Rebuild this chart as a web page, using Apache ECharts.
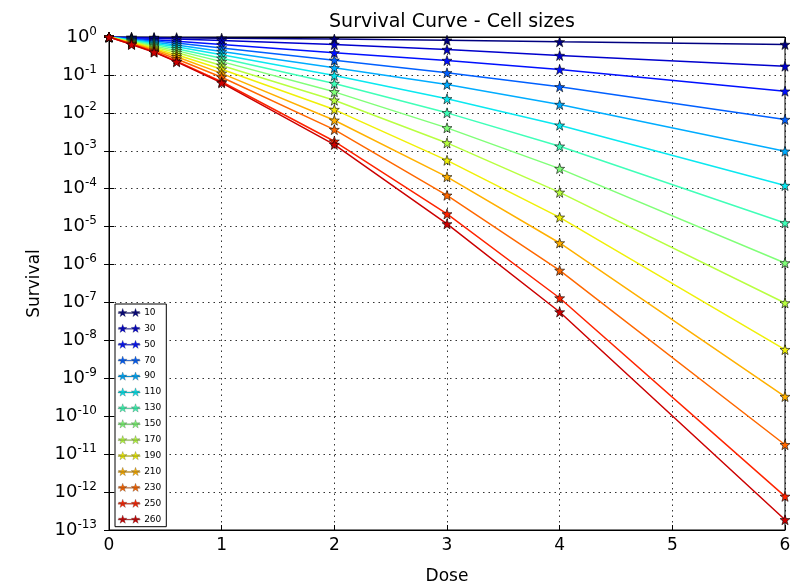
<!DOCTYPE html>
<html>
<head>
<meta charset="utf-8">
<script src="https://cdn.jsdelivr.net/npm/echarts@6/dist/echarts.min.js"></script>
<style>
  html, body { margin: 0; padding: 0; background: #fff; }
  #main { width: 801px; height: 588px; }
</style>
</head>
<body>
<div id="main"></div>
<script>
// doses where survival was measured
const doses = [0, 0.2, 0.4, 0.6, 1, 2, 3, 4, 6];

// cell sizes (legend names)
const sizes = ['10', '30', '50', '70', '90', '110', '130', '150', '170', '190', '210', '230', '250', '260'];

// survival fraction per size
const s10  = [1, 0.986, 0.975, 0.962, 0.933, 0.881, 0.822, 0.746, 0.634];
const s30  = [1, 0.962, 0.927, 0.891, 0.813, 0.634, 0.468, 0.325, 0.170];
const s50  = [1, 0.918, 0.845, 0.776, 0.631, 0.383, 0.240, 0.139, 0.0372];
const s70  = [1, 0.885, 0.785, 0.692, 0.513, 0.244, 0.1135, 0.0485, 0.00665];
const s90  = [1, 0.851, 0.729, 0.617, 0.417, 0.154, 0.0558, 0.0166, 9.7e-4];
const s110 = [1, 0.822, 0.676, 0.550, 0.339, 0.0964, 0.0234, 0.00471, 1.21e-4];
const s130 = [1, 0.794, 0.631, 0.490, 0.275, 0.0593, 0.0100, 0.001315, 1.25e-5];
const s150 = [1, 0.767, 0.582, 0.437, 0.224, 0.0358, 0.00402, 3.39e-4, 1.10e-6];
const s170 = [1, 0.741, 0.537, 0.389, 0.178, 0.0215, 0.00161, 8.0e-5, 9.7e-8];
const s190 = [1, 0.716, 0.501, 0.339, 0.141, 0.0122, 5.6e-4, 1.76e-5, 5.7e-9];
const s210 = [1, 0.692, 0.468, 0.302, 0.110, 0.00638, 2.05e-4, 3.7e-6, 3.3e-10];
const s230 = [1, 0.668, 0.437, 0.263, 0.0871, 0.00362, 6.7e-5, 7.0e-7, 1.77e-11];
const s250 = [1, 0.646, 0.407, 0.229, 0.0661, 0.00178, 2.16e-5, 1.31e-7, 7.7e-13];
const s260 = [1, 0.634, 0.398, 0.221, 0.0617, 0.00146, 1.18e-5, 5.6e-8, 1.86e-13];

const survival = [s10, s30, s50, s70, s90, s110, s130, s150, s170, s190, s210, s230, s250, s260];

// jet-like colours
const colors = ['#000080', '#0000cc', '#0010ff', '#0060ff', '#00acff', '#0ae8f0',
                '#40ffb8', '#80ff78', '#b8ff40', '#f0f008', '#ffb000', '#ff6800',
                '#ff2400', '#cc0000'];

const star = 'path://M0,-5L1.176,-1.618L4.755,-1.545L1.902,0.618L2.939,4.045L0,2L-2.939,4.045L-1.902,0.618L-4.755,-1.545L-1.176,-1.618Z';
// legend icon: a line with a star at each end
const legendIcon = 'path://M0,4.5L24,4.5L24,5.5L0,5.5Z' +
  'M5,0L6.176,3.382L9.755,3.455L6.902,5.618L7.939,9.045L5,7L2.061,9.045L3.098,5.618L0.245,3.455L3.824,3.382Z' +
  'M19,0L20.176,3.382L23.755,3.455L20.902,5.618L21.939,9.045L19,7L16.061,9.045L17.098,5.618L14.245,3.455L17.824,3.382Z';

const font = 'DejaVu Sans';

var myChart = echarts.init(document.getElementById('main'));

const series = sizes.map((name, i) => ({
  name: name,
  type: 'line',
  data: doses.map((d, j) => [d, survival[i][j]]),
  symbol: star,
  symbolSize: 10,
  lineStyle: { width: 1.5, color: colors[i] },
  itemStyle: { color: colors[i], borderColor: '#000', borderWidth: 0.6 },
  z: 2 + i,
  animation: false
}));

const gridLine = { show: true, lineStyle: { color: '#000', type: [1.5, 4], width: 1, opacity: 0.8 } };

myChart.setOption({
  animation: false,
  textStyle: { fontFamily: font },
  title: {
    text: 'Survival Curve - Cell sizes',
    left: 447,
    top: 8,
    textAlign: 'center',
    textStyle: { fontFamily: font, fontSize: 19, fontWeight: 'normal', color: '#000' }
  },
  legend: {
    data: sizes.map((n, i) => ({ name: n, icon: legendIcon, itemStyle: { color: colors[i], borderColor: '#333', borderWidth: 0.25 } })),
    orient: 'vertical',
    left: 115,
    top: 304,
    itemWidth: 22,
    itemHeight: 9,
    itemGap: 6.9,
    padding: [4, 5, 3, 3],
    borderColor: '#000',
    borderWidth: 1,
    borderRadius: 0,
    backgroundColor: '#fff',
    textStyle: { fontFamily: font, fontSize: 9, color: '#000', padding: [0, 0, 0, -1] },
    z: 10
  },
  grid: {
    left: 109, right: 16, top: 37, bottom: 58,
    outerBoundsMode: 'none',
    show: true, borderColor: '#000', borderWidth: 1, backgroundColor: 'transparent'
  },
  xAxis: [{
    type: 'value',
    min: 0, max: 6, interval: 1,
    name: 'Dose',
    nameLocation: 'middle',
    nameGap: 38,
    nameTextStyle: { fontFamily: font, fontSize: 17, color: '#000' },
    axisLine: { show: true, lineStyle: { color: '#000' } },
    axisTick: { show: true, inside: true, length: 5, lineStyle: { color: '#000' } },
    axisLabel: { fontFamily: font, fontSize: 17, color: '#000', margin: 7 },
    splitLine: gridLine
  }, {
    type: 'value', position: 'top',
    min: 0, max: 6, interval: 1,
    axisLine: { show: true, lineStyle: { color: '#000' } },
    axisTick: { show: true, inside: true, length: 5, lineStyle: { color: '#000' } },
    axisLabel: { show: false },
    splitLine: { show: false }
  }],
  yAxis: [{
    type: 'log',
    logBase: 10,
    min: 1e-13, max: 1, interval: 1,
    name: 'Survival',
    nameLocation: 'middle',
    nameGap: 66,
    nameRotate: 90,
    nameTextStyle: { fontFamily: font, fontSize: 17, color: '#000' },
    axisLine: { show: true, lineStyle: { color: '#000' } },
    axisTick: { show: true, inside: true, length: 5, lineStyle: { color: '#000' } },
    axisLabel: {
      fontFamily: font, fontSize: 18, color: '#000', margin: 12,
      formatter: function (v) {
        const e = Math.round(Math.log10(v));
        return '{b|10}{s|' + e + '}';
      },
      rich: {
        b: { fontFamily: font, fontSize: 18, color: '#000' },
        s: { fontFamily: font, fontSize: 12, color: '#000', padding: [0, 0, 11, 0] }
      }
    },
    splitLine: gridLine
  }, {
    type: 'log',
    logBase: 10,
    position: 'right',
    min: 1e-13, max: 1, interval: 1,
    axisLine: { show: true, lineStyle: { color: '#000' } },
    axisTick: { show: true, inside: true, length: 5, lineStyle: { color: '#000' } },
    axisLabel: { show: false },
    splitLine: { show: false }
  }],
  series: series
});
</script>
</body>
</html>
